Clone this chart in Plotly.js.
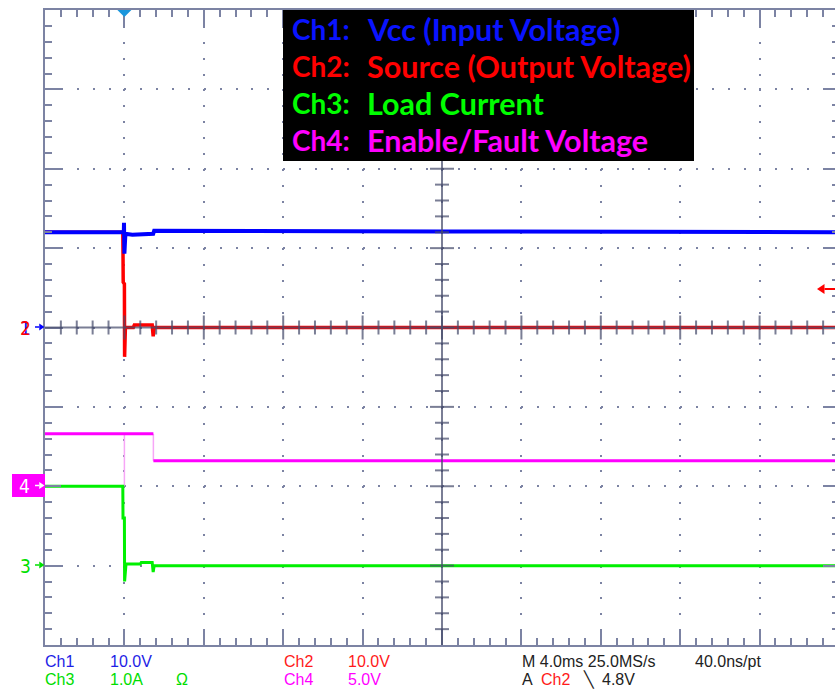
<!DOCTYPE html>
<html>
<head>
<meta charset="utf-8">
<script src="https://cdn.plot.ly/plotly-3.0.1.min.js"></script>
<style>
html,body{margin:0;padding:0;overflow:hidden;background:#fff;}
#chart{width:845px;height:692px;}
</style>
</head>
<body>
<div id="chart"></div>
<script>
// ---- data (time in ms relative to trigger; values in channel units) ----
const ch1T = [-4, -0.03, -0.02, 0.0, 0.05, 0.4, 1.45, 1.5, 16, 36];
const ch1V = [12.0, 12.0, 13.2, 9.3, 11.8, 11.7, 11.8, 12.2, 12.1, 12.0];   // V

const ch2T = [-4, -0.08, -0.07, -0.06, 0.0, 0.01, 0.05, 0.45, 0.5, 1.4, 1.45, 1.5, 36];
const ch2V = [12.0, 12.0, 9.3, 5.7, 5.5, -3.7, 0.0, 0.0, 0.3, 0.3, -1.1, 0.0, 0.0]; // V

const ch3T = [-4, -0.08, -0.07, 0.0, 0.01, 0.08, 0.8, 0.85, 1.4, 1.45, 1.5, 36];
const ch3V = [1.0, 1.0, 0.6, 0.6, -0.2, 0.02, 0.02, 0.04, 0.04, -0.08, 0.0, 0.0]; // A

const ch4T = [-4, 1.46, null, 1.46, 36];
const ch4V = [3.3, 3.3, null, 1.6, 1.6];           // V
const ch4EdgeT = [0, 0, null, 1.46, 1.46];
const ch4EdgeV = [3.3, 0.0, null, 3.3, 1.6];

// channel settings: units per division and ground position (divisions from bottom)
const chScale  = [10, 10, 1.0, 5];
const chOffset = [4, 4, 1, 2];
const chColor  = ['#0000ff', '#ff0000', '#00f000', '#ff00ff'];
const legendColor = ['#0a14ff', '#ff0000', '#00ff00', '#ff00ff'];

const legendLabels = ['Ch1:', 'Ch2:', 'Ch3:', 'Ch4:'];
const legendTexts  = ['Vcc (Input Voltage)', 'Source (Output Voltage)', 'Load Current', 'Enable/Fault Voltage'];

// ---- helpers ----
const toDiv = (vals, i) => vals.map(v => v === null ? null : chOffset[i] + v / chScale[i]);
const px2t = px => -4 + (px - 45) / 794 * 40;
const py2d = py => (645 - py) / 635 * 8;
const pxP = px => (px - 45) / 794;
const pyP = py => (645 - py) / 635;

const gridC = '#7c83a3';
const crossC = 'rgba(70,76,108,0.72)';

const traces = [
  {x: ch4EdgeT, y: toDiv(ch4EdgeV, 3), mode: 'lines', line: {color: '#f7a6f7', width: 1.5}, hoverinfo: 'skip'},
  {x: ch4T, y: toDiv(ch4V, 3), mode: 'lines', line: {color: chColor[3], width: 3}},
  {x: ch2T, y: toDiv(ch2V, 1), mode: 'lines', line: {color: chColor[1], width: 3.5}},
  {x: ch1T, y: toDiv(ch1V, 0), mode: 'lines', line: {color: chColor[0], width: 4}},
  {x: ch3T, y: toDiv(ch3V, 2), mode: 'lines', line: {color: chColor[2], width: 3}}
];

// ---- shapes: center crosshair with ticks, legend box, trigger marker ----
const shapes = [];
shapes.push({type: 'line', xref: 'x', yref: 'y', x0: 16, x1: 16, y0: 0, y1: 8,
  line: {color: crossC, width: 2}, layer: 'above'});
shapes.push({type: 'line', xref: 'x', yref: 'y', x0: -4, x1: 36, y0: 4, y1: 4,
  line: {color: crossC, width: 2}, layer: 'above'});
for (let k = 1; k < 40; k++) {
  const yv = k * 0.2;
  const h = (k % 5 === 0) ? 12 : 7;
  shapes.push({type: 'line', xref: 'x', yref: 'y', xsizemode: 'pixel', xanchor: 16,
    x0: -h, x1: h, y0: yv, y1: yv, line: {color: crossC, width: 2}, layer: 'above'});
}
for (let k = 1; k < 50; k++) {
  const xv = -4 + k * 0.8;
  const h = (k % 5 === 0) ? 12 : 7;
  shapes.push({type: 'line', xref: 'x', yref: 'y', ysizemode: 'pixel', yanchor: 4,
    y0: -h, y1: h, x0: xv, x1: xv, line: {color: crossC, width: 2}, layer: 'above'});
}
shapes.push({type: 'rect', xref: 'x', yref: 'y', x0: px2t(283), x1: px2t(694), y0: py2d(161), y1: py2d(10),
  fillcolor: '#000000', line: {width: 0}, layer: 'above'});
shapes.push({type: 'path', xref: 'x', yref: 'y', xsizemode: 'pixel', ysizemode: 'pixel',
  xanchor: 0, yanchor: 8, path: 'M-8,1 L8,1 L0,-7 Z', fillcolor: '#1a96dc', line: {width: 0}, layer: 'above'});
// channel 4 ground marker box (outside plot area)
shapes.push({type: 'rect', xref: 'paper', yref: 'paper', x0: pxP(12), x1: pxP(45), y0: pyP(497), y1: pyP(474),
  fillcolor: '#ff00ff', line: {width: 0}, layer: 'above'});

// small arrows (ground markers and trigger level) as paper-space shapes
function addArrow(tailPx, tipPx, py, color, w, hh) {
  const dir = Math.sign(tipPx - tailPx);
  const baseX = tipPx - dir * (hh * 1.5);
  shapes.push({type: 'line', xref: 'paper', yref: 'paper', x0: pxP(tailPx), x1: pxP(baseX), y0: pyP(py), y1: pyP(py),
    line: {color: color, width: w}, layer: 'above'});
  shapes.push({type: 'path', xref: 'paper', yref: 'paper',
    path: 'M' + pxP(tipPx) + ',' + pyP(py) + ' L' + pxP(baseX) + ',' + pyP(py - hh) + ' L' + pxP(baseX) + ',' + pyP(py + hh) + ' Z',
    fillcolor: color, line: {width: 0}, layer: 'above'});
}
addArrow(35, 44.5, 327, '#0000ff', 1.5, 3.5);
addArrow(35, 44.5, 565, '#00e000', 1.5, 3.5);
addArrow(35, 44.5, 485.5, '#ffffff', 1.5, 3.5);
addArrow(837, 817, 289, '#ff0000', 2, 5);

// ---- annotations ----
const ann = [];
const lfLab = {family: 'Lato, "Open Sans", sans-serif', size: 28, weight: 'bold'};
const lfTxt = {family: 'Lato, "Open Sans", sans-serif', size: 30.5, weight: 'bold'};
const lineY = [29, 66, 103, 140];
for (let i = 0; i < 4; i++) {
  ann.push({x: pxP(290), y: pyP(lineY[i]), text: '<b>' + legendLabels[i] + '</b>', xanchor: 'left', yanchor: 'middle',
    font: Object.assign({}, lfLab, {color: legendColor[i]})});
  ann.push({x: pxP(365), y: pyP(lineY[i]), text: '<b>' + legendTexts[i] + '</b>', xanchor: 'left', yanchor: 'middle',
    font: Object.assign({}, lfTxt, {color: legendColor[i]})});
}

const bf = {family: '"Liberation Sans", Arial, sans-serif', size: 16};
const bottom = [
  ['Ch1', 45, 661, '#1e1ee6'], ['10.0V', 110, 661, '#1e1ee6'],
  ['Ch2', 284, 661, '#ff1a1a'], ['10.0V', 348, 661, '#ff1a1a'],
  ['M 4.0ms 25.0MS/s', 522, 661, '#222222'], ['40.0ns/pt', 695, 661, '#222222'],
  ['Ch3', 45, 680, '#00dd00'], ['1.0A', 110, 680, '#00dd00'], ['\u03A9', 176, 680, '#00dd00'],
  ['Ch4', 284, 680, '#ff00ff'], ['5.0V', 348, 680, '#ff00ff'],
  ['A', 522, 680, '#222222'], ['Ch2', 541, 680, '#ff1a1a'], ['\u2572', 583, 680, '#222222'], ['4.8V', 602, 680, '#222222']
];
bottom.forEach(b => ann.push({x: pxP(b[1] - 2), y: pyP(b[2]), text: b[0], xanchor: 'left', yanchor: 'middle',
  font: Object.assign({}, bf, {color: b[3]})}));

const mf = {family: '"Liberation Sans Narrow", "DejaVu Sans Condensed", Arial, sans-serif', size: 19};
const marks = [['1', 25.5, 328, '#0000ff'], ['2', 25.5, 328, '#ff0000'], ['3', 25.5, 566, '#00e000'], ['4', 24.5, 486, '#ffffff']];
marks.forEach(m => ann.push({x: pxP(m[1]), y: pyP(m[2]), text: m[0], xanchor: 'center', yanchor: 'middle',
  font: Object.assign({}, mf, {color: m[3]})}));

ann.forEach(a => { a.xref = 'paper'; a.yref = 'paper'; a.showarrow = false; });

const axisCommon = {
  showgrid: true, gridcolor: gridC, gridwidth: 2, griddash: '2px,13.875px',
  showline: true, linecolor: gridC, linewidth: 2, mirror: 'ticks',
  ticks: 'inside', ticklen: 16, tickwidth: 2, tickcolor: gridC,
  showticklabels: false, zeroline: false, fixedrange: true
};

const layout = {
  width: 845, height: 692,
  margin: {l: 45, r: 6, t: 10, b: 47, pad: 0},
  paper_bgcolor: '#ffffff', plot_bgcolor: '#ffffff',
  showlegend: false,
  xaxis: Object.assign({}, axisCommon, {range: [-4, 36], tick0: -4, dtick: 4,
    minor: {tick0: -4, dtick: 0.8, ticks: 'inside', ticklen: 7, tickwidth: 2, tickcolor: gridC, showgrid: false}}),
  yaxis: Object.assign({}, axisCommon, {range: [0, 8], tick0: 0, dtick: 1,
    minor: {tick0: 0, dtick: 0.2, ticks: 'inside', ticklen: 7, tickwidth: 2, tickcolor: gridC, showgrid: false}}),
  shapes: shapes,
  annotations: ann
};

Plotly.newPlot('chart', traces, layout, {staticPlot: true, displayModeBar: false});
</script>
</body>
</html>
